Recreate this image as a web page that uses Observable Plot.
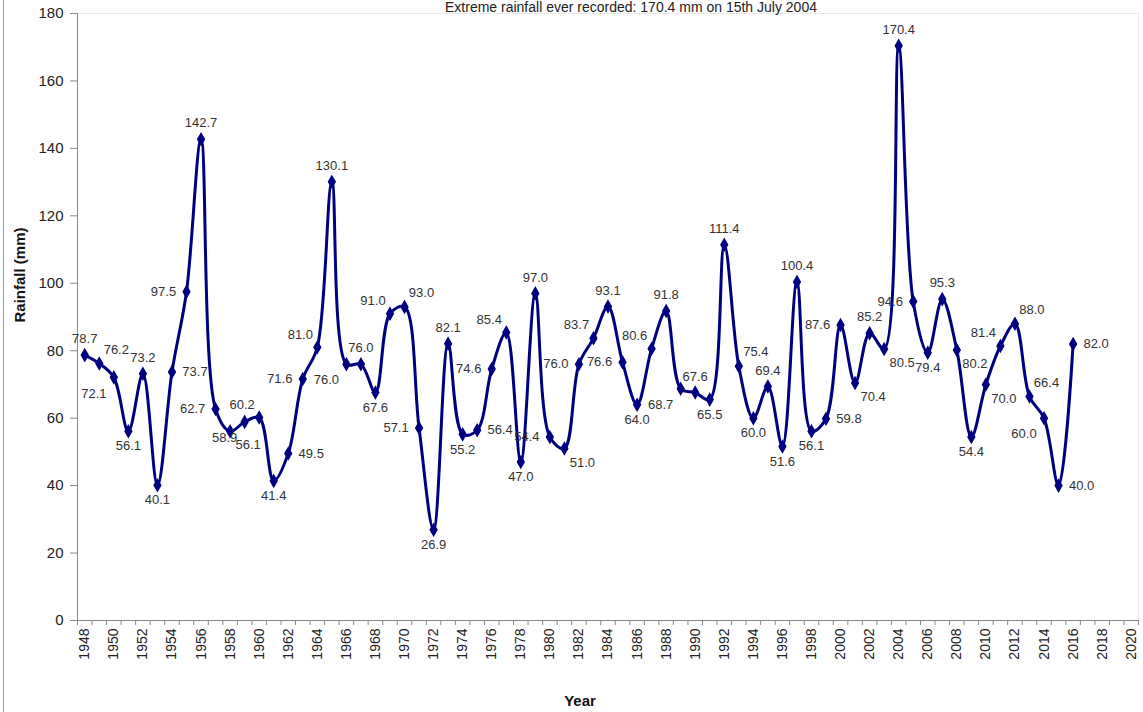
<!DOCTYPE html>
<html><head><meta charset="utf-8">
<script src="https://cdn.jsdelivr.net/npm/d3@7"></script>
<script src="https://cdn.jsdelivr.net/npm/@observablehq/plot@0.6"></script>
<style>
body{margin:0;background:#fff;overflow:hidden;}
#wrap{position:relative;width:1143px;height:712px;font-family:"Liberation Sans",Arial,sans-serif;}
#title{position:absolute;top:0;left:631px;transform:translateX(-50%);font-size:14px;line-height:14px;white-space:nowrap;color:#222;}
#edge{position:absolute;left:3px;top:0;width:1px;height:712px;background:#999;}
#ylab{position:absolute;left:19px;top:275px;transform:translate(-50%,-50%) rotate(-90deg);font-size:15px;font-weight:bold;white-space:nowrap;color:#111;}
#xlab{position:absolute;left:580px;top:700px;transform:translate(-50%,-50%);font-size:15px;font-weight:bold;color:#111;}
</style></head><body>
<div id="wrap"><div id="chart"></div>
<div id="title">Extreme rainfall ever recorded: 170.4 mm on 15th July 2004</div>
<div id="ylab">Rainfall (mm)</div>
<div id="xlab">Year</div>
<div id="edge"></div></div>
<script>
const years = [1948,1949,1950,1951,1952,1953,1954,1955,1956,1957,
  1958,1959,1960,1961,1962,1963,1964,1965,1966,1967,
  1968,1969,1970,1971,1972,1973,1974,1975,1976,1977,
  1978,1979,1980,1981,1982,1983,1984,1985,1986,1987,
  1988,1989,1990,1991,1992,1993,1994,1995,1996,1997,
  1998,1999,2000,2001,2002,2003,2004,2005,2006,2007,
  2008,2009,2010,2011,2012,2013,2014,2015,2016];
const rainfall = [78.7,76.2,72.1,56.1,73.2,40.1,73.7,97.5,142.7,62.7,
  56.1,58.9,60.2,41.4,49.5,71.6,81.0,130.1,76.0,76.0,
  67.6,91.0,93.0,57.1,26.9,82.1,55.2,56.4,74.6,85.4,
  47.0,97.0,54.4,51.0,76.0,83.7,93.1,76.6,64.0,80.6,
  91.8,68.7,67.6,65.5,111.4,75.4,60.0,69.4,51.6,100.4,
  56.1,59.8,87.6,70.4,85.2,80.5,170.4,94.6,79.4,95.3,
  80.2,54.4,70.0,81.4,88.0,66.4,60.0,40.0,82.0];
// label placement side for each data label
const labelSide = ["N","NE","SW","S","N","S","E","W","N","W",
  "SE","SW","NW","S","E","W","NW","N","SW","N",
  "S","NW","NE","W","S","N","S","E","W","NW",
  "S","N","W","SE","W","NW","N","W","S","NW",
  "N","SW","N","S","N","NE","S","N","S","N",
  "S","E","W","SE","N","SE","N","W","S","N",
  "SE","S","SE","NW","NE","NE","SW","E","E"];
const yTicks = [0,20,40,60,80,100,120,140,160,180];
const xTickLabels = [1948,1950,1952,1954,1956,1958,1960,1962,1964,1966,1968,1970,
  1972,1974,1976,1978,1980,1982,1984,1986,1988,1990,1992,1994,1996,1998,2000,
  2002,2004,2006,2008,2010,2012,2014,2016,2018,2020];

const data = years.map((y,i)=>({year:y, value:rainfall[i], side:labelSide[i]}));
const lastCat = xTickLabels[xTickLabels.length-1];
const firstCat = years[0];
const bounds = d3.range(firstCat - 0.5, lastCat + 1, 1);

const offsets = {N:[0,-16],S:[0,15],E:[23,0],W:[-23,0],NE:[17,-14],NW:[-17,-13],SE:[18,14],SW:[-20,16]};
const navy = "#000080";
const labelMarks = Object.entries(offsets).map(([k,[dx,dy]]) =>
  Plot.text(data.filter(d=>d.side===k), {x:"year", y:"value", text:d=>d.value.toFixed(1),
    dx, dy, fontSize:13, fill:"#333", textAnchor:"middle"}));

const chart = Plot.plot({
  width:1143, height:712,
  marginTop:13, marginBottom:92, marginLeft:77, marginRight:5,
  style:{fontFamily:"'Liberation Sans', Arial, sans-serif", background:"transparent"},
  x:{domain:[firstCat-0.5, lastCat+0.5]},
  y:{domain:[0,180]},
  marks:[
    Plot.ruleY([180],{stroke:"#e8e8e8"}),
    Plot.ruleX([lastCat+0.5],{stroke:"#e8e8e8"}),
    Plot.axisY({ticks:yTicks, tickSize:7, tickPadding:7, fontSize:15, label:null, stroke:"#888", fill:"#222"}),
    Plot.axisX({ticks:bounds, tickSize:5, tickFormat:()=>"", label:null, stroke:"#888"}),
    Plot.axisX({ticks:xTickLabels, tickSize:0, tickPadding:8, tickRotate:-90, textAnchor:"end", fontSize:14, label:null, tickFormat:d=>String(d), fill:"#222"}),
    Plot.ruleX([firstCat-0.5],{stroke:"#888"}),
    Plot.ruleY([0],{stroke:"#888"}),
    Plot.line(data,{x:"year", y:"value", curve:"catmull-rom", stroke:navy, strokeWidth:3}),
    Plot.dot(data,{x:"year", y:"value", symbol:"diamond", r:3.5, fill:navy, stroke:navy}),
    ...labelMarks
  ]
});
document.getElementById("chart").appendChild(chart);
</script>
</body></html>
